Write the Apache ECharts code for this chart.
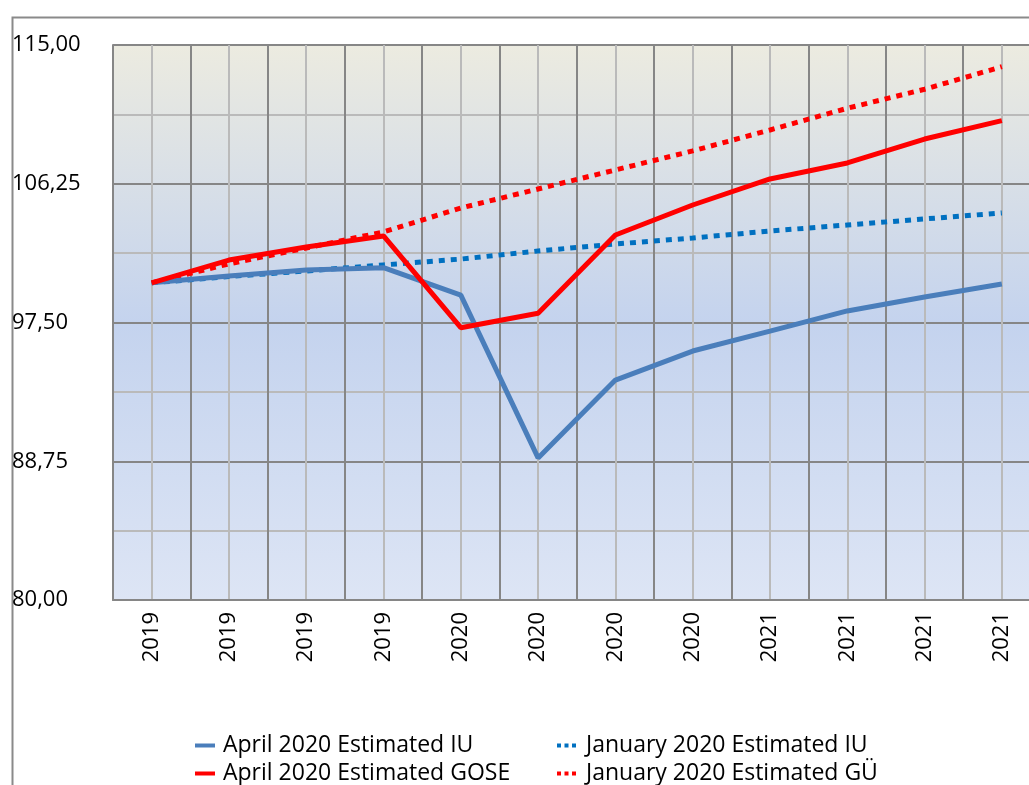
<!DOCTYPE html>
<html>
<head>
<meta charset="utf-8">
<script src="https://cdn.jsdelivr.net/npm/echarts@6/dist/echarts.min.js"></script>
<style>
  html, body { margin: 0; padding: 0; background: #fff; overflow: hidden; width: 1029px; height: 785px; }
  /* the original chart runs past the right and bottom edges of the picture */
  #chart { width: 1045px; height: 830px; }
</style>
</head>
<body>
<div id="chart"></div>
<script>
// categories along the x axis
var periods = ['2019', '2019', '2019', '2019', '2020', '2020', '2020', '2020', '2021', '2021', '2021', '2021'];

// series values
var aprilIU   = [100.0, 100.43, 100.81, 100.96, 99.23, 88.96, 93.87, 95.70, 96.96, 98.23, 99.11, 99.93];
var aprilGOSE = [100.0, 101.44, 102.26, 102.96, 97.17, 98.08, 103.02, 104.91, 106.55, 107.56, 109.07, 110.23];
var januaryIU = [100.0, 100.40, 100.75, 101.13, 101.50, 102.01, 102.45, 102.83, 103.27, 103.65, 104.03, 104.41];
var januaryGU = [100.0, 101.20, 102.20, 103.21, 104.72, 105.92, 107.12, 108.32, 109.64, 111.01, 112.21, 113.63];

var names = ['April 2020 Estimated IU', 'April 2020 Estimated GOSE', 'January 2020 Estimated IU', 'January 2020 Estimated GÜ'];

var font = 'Open Sans';
var darkGrid = '#868686';
var lightGrid = '#bababa';

var chart = echarts.init(document.getElementById('chart'));

var legendText = { fontFamily: font, fontSize: 23, lineHeight: 23, color: '#000' };

chart.setOption({
    animation: false,
    backgroundColor: '#fff',
    graphic: [{
        type: 'rect',
        left: 10,
        top: 15,
        z: -10,
        shape: { width: 1100, height: 900 },
        style: { fill: 'none', stroke: '#8a8a8a', lineWidth: 2 }
    }],
    grid: {
        left: 113,
        top: 45,
        width: 927.5,
        height: 555,
        show: true,
        borderWidth: 0,
        backgroundColor: new echarts.graphic.LinearGradient(0, 0, 0, 1, [
            { offset: 0, color: '#ecebe0' },
            { offset: 0.5, color: '#c4d3ee' },
            { offset: 1, color: '#dde5f5' }
        ])
    },
    legend: [{
        orient: 'vertical',
        left: 190,
        top: 729,
        itemWidth: 20,
        itemHeight: 4,
        itemGap: 5,
        icon: 'rect',
        data: [names[0], names[1]],
        textStyle: Object.assign({ padding: [0, 0, 0, 3] }, legendText)
    }, {
        orient: 'vertical',
        left: 552,
        top: 729,
        itemWidth: 19,
        itemHeight: 4,
        itemGap: 5,
        icon: 'path://M0,0h4v4h-4z M7.5,0h4v4h-4z M15,0h4v4h-4z',
        data: [names[2], names[3]],
        textStyle: Object.assign({ padding: [0, 0, 0, 5] }, legendText)
    }],
    xAxis: [{
        type: 'category',
        data: periods,
        boundaryGap: true,
        axisLine: { lineStyle: { color: darkGrid, width: 2 } },
        axisTick: { show: false },
        splitLine: { show: false },
        axisLabel: {
            rotate: 90,
            margin: 12,
            fontFamily: font,
            fontSize: 22,
            color: '#000',
            interval: 0
        }
    }, {
        // helper axis for the vertical grid: dark at boundaries, light at category centres
        type: 'value',
        min: 0,
        max: 12,
        interval: 1,
        position: 'bottom',
        axisLine: { show: false },
        axisTick: { show: false },
        axisLabel: { show: false },
        splitLine: { show: true, lineStyle: { color: darkGrid, width: 2 } },
        minorTick: { show: false, splitNumber: 2 },
        minorSplitLine: { show: true, lineStyle: { color: lightGrid, width: 2 } }
    }],
    yAxis: {
        type: 'value',
        min: 80,
        max: 115,
        interval: 8.75,
        axisLine: { show: true, lineStyle: { color: darkGrid, width: 2 } },
        axisTick: { show: false },
        axisLabel: {
            align: 'left',
            margin: 101,
            fontFamily: font,
            fontSize: 22,
            color: '#000',
            formatter: function (v) { return v.toFixed(2).replace('.', ','); }
        },
        splitLine: { show: true, lineStyle: { color: darkGrid, width: 2 } },
        minorTick: { show: false, splitNumber: 2 },
        minorSplitLine: { show: true, lineStyle: { color: lightGrid, width: 2 } }
    },
    series: [{
        name: names[2],
        type: 'line',
        data: januaryIU,
        symbol: 'none',
        color: '#0070c0',
        lineStyle: { width: 5, type: [6, 6], cap: 'butt' }
    }, {
        name: names[3],
        type: 'line',
        data: januaryGU,
        symbol: 'none',
        color: '#ff0000',
        lineStyle: { width: 5, type: [6, 6], cap: 'butt' }
    }, {
        name: names[0],
        type: 'line',
        data: aprilIU,
        symbol: 'none',
        color: '#4a7ebb',
        lineStyle: { width: 5 }
    }, {
        name: names[1],
        type: 'line',
        data: aprilGOSE,
        symbol: 'none',
        color: '#ff0000',
        lineStyle: { width: 5 }
    }]
});
</script>
</body>
</html>
